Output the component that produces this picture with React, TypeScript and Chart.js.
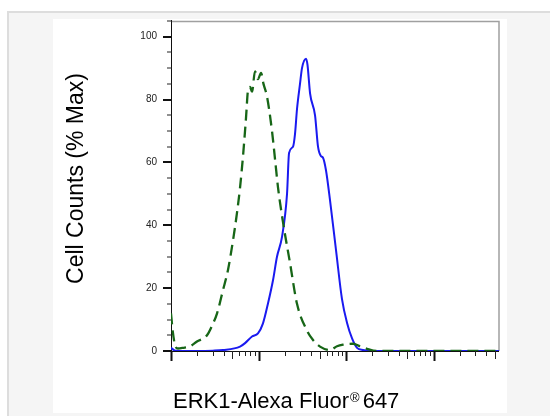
import { useEffect, useRef } from 'react';
import { Chart, registerables } from 'chart.js';

Chart.register(...registerables);

const W = 550;
const H = 416;

// Axis ranges (fluorescence intensity, log scale; cell counts % max)
const X_MIN = 10;
const X_MAX = 56000;
const Y_MIN = 0;
const Y_MAX = 105;

// Tick values
const Y_LABELS = [0, 20, 40, 60, 80, 100];
const Y_MINOR = [5, 10, 15, 25, 30, 35, 45, 50, 55, 65, 70, 75, 85, 90, 95, 105];
const X_DECADES = [10, 100, 1000, 10000];
const X_MULTS = [2, 3, 4, 5, 6, 7, 8, 9];

const X_TITLE_MAIN = 'ERK1-Alexa Fluor';
const X_TITLE_SUP = '®';
const X_TITLE_END = '647';
const Y_TITLE = 'Cell Counts (% Max)';

// Isotype control (green dashed)
const CONTROL_X = [10, 10.5, 11.1, 12.0, 13.7, 16.5, 19.8, 25.8, 29.4, 33.6, 39.3, 44.8, 51.2, 56.8, 61.5, 66.5, 71.9, 75.9, 80, 84.3, 91.2, 98.6, 106.9, 114, 125, 142.6, 154.5, 167.1, 190.5, 229.1, 275.4, 358.1, 419.8, 504.7, 656.1, 788.9, 924.7, 1202, 1445, 1738, 2259, 56000];
const CONTROL_Y = [12, 6, 2, 0.8, 1, 1.5, 3, 5, 8, 12, 19.4, 25.8, 35.3, 44, 52, 62, 74, 83, 84, 82.5, 89, 86.5, 88.5, 85, 81, 70, 61, 52, 41, 28, 15, 6.5, 3.5, 1.4, 0.3, 1.5, 2, 2.3, 1.5, 0.7, 0, 0];

// ERK1 stained (blue solid)
const ERK1_X = [10, 10.8, 11.7, 20, 30, 39.3, 61.5, 70.2, 84.3, 98.6, 112.5, 128.5, 146.6, 162.6, 185.8, 211.8, 223.4, 247.8, 261.2, 275.4, 297.9, 314.1, 349.1, 363.1, 388.2, 442.6, 478.6, 517.6, 545.8, 590.2, 656.1, 769.1, 899.5, 1026, 1172, 1337, 1563, 2037, 56000];
const ERK1_Y = [1.0, 0.3, 0, 0, 0.1, 0.3, 1.4, 2.5, 4.6, 5.6, 8.8, 15.2, 22.6, 30, 36.4, 50, 63, 65, 69, 77, 85, 90, 93, 91, 82, 75, 65, 62, 61.5, 57.5, 48, 32, 16.5, 9, 4, 1, 0.3, 0, 0];

const FONT = '"Liberation Sans", Arial, Helvetica, sans-serif';

const decorPlugin = {
  id: 'decor',
  beforeDraw(chart: any) {
    const ctx = chart.ctx;
    ctx.save();
    ctx.fillStyle = '#ffffff';
    ctx.fillRect(0, 0, W, H);
    ctx.fillStyle = '#f5f5f5';
    ctx.fillRect(7, 11, W - 7, H - 11);
    ctx.fillStyle = '#dddddd';
    ctx.fillRect(7, 11, W - 7, 2);
    ctx.fillRect(7, 11, 2, H - 11);
    ctx.fillStyle = '#ffffff';
    ctx.fillRect(53, 19, 454, 394);
    ctx.restore();
  },
  beforeDatasetsDraw(chart: any) {
    const ctx = chart.ctx;
    const xs = chart.scales.x;
    const ys = chart.scales.y;
    const { left, right, top, bottom } = chart.chartArea;
    ctx.save();
    // frame top & right
    ctx.strokeStyle = '#a0a0a0';
    ctx.lineWidth = 1.5;
    ctx.beginPath();
    ctx.moveTo(left, top + 0.5);
    ctx.lineTo(right, top + 0.5);
    ctx.lineTo(right, bottom);
    ctx.stroke();
    // axes
    ctx.strokeStyle = '#111';
    ctx.lineWidth = 1;
    ctx.beginPath();
    ctx.moveTo(left + 0.5, top - 1);
    ctx.lineTo(left + 0.5, bottom);
    ctx.moveTo(left, bottom + 0.5);
    ctx.lineTo(right, bottom + 0.5);
    ctx.stroke();
    // y ticks
    ctx.fillStyle = '#111';
    for (const v of Y_LABELS) {
      const py = Math.round(ys.getPixelForValue(v));
      ctx.fillRect(left - 8, py - 1, 9, 2);
    }
    ctx.fillStyle = '#222';
    for (const v of Y_MINOR) {
      const py = Math.round(ys.getPixelForValue(v));
      ctx.fillRect(left - 4, py - 0.5, 5, 1);
    }
    // x ticks
    for (const d of X_DECADES) {
      const px = Math.round(xs.getPixelForValue(d));
      ctx.fillStyle = '#111';
      ctx.fillRect(px - 0.5, bottom, 2, 10);
      for (const m of X_MULTS) {
        const v = d * m;
        if (v > X_MAX) continue;
        const pm = Math.round(xs.getPixelForValue(v));
        const len = m === 5 ? 8 : 5;
        ctx.fillStyle = '#222';
        ctx.fillRect(pm, bottom, 1, len);
      }
    }
    ctx.restore();
  },
  afterDraw(chart: any) {
    const ctx = chart.ctx;
    ctx.save();
    ctx.fillStyle = '#000';
    // y title
    ctx.save();
    ctx.translate(83, 178.5);
    ctx.rotate(-Math.PI / 2);
    ctx.font = `23px ${FONT}`;
    ctx.textAlign = 'center';
    ctx.textBaseline = 'alphabetic';
    ctx.fillText(Y_TITLE, 0, 0);
    ctx.restore();
    // x title
    ctx.textAlign = 'left';
    ctx.textBaseline = 'alphabetic';
    let x = 173;
    const y = 408;
    ctx.font = `22px ${FONT}`;
    ctx.fillText(X_TITLE_MAIN, x, y);
    x += ctx.measureText(X_TITLE_MAIN).width + 1;
    ctx.font = `13px ${FONT}`;
    ctx.fillText(X_TITLE_SUP, x, y - 6);
    x += ctx.measureText(X_TITLE_SUP).width + 3;
    ctx.font = `22px ${FONT}`;
    ctx.fillText(X_TITLE_END, x, y);
    ctx.restore();
  },
};

export default function App() {
  const ref = useRef<HTMLCanvasElement>(null);
  useEffect(() => {
    document.body.style.margin = '0';
    const canvas = ref.current!;
    const chart = new Chart(canvas, {
      type: 'line',
      data: {
        datasets: [
          {
            label: 'Isotype control',
            data: CONTROL_X.map((x, i) => ({ x, y: CONTROL_Y[i] })),
            borderColor: '#176617',
            borderWidth: 2.3,
            borderDash: [11, 6],
            pointRadius: 0,
            cubicInterpolationMode: 'monotone',
            fill: false,
          },
          {
            label: 'ERK1',
            data: ERK1_X.map((x, i) => ({ x, y: ERK1_Y[i] })),
            borderColor: '#1a1af0',
            borderWidth: 2,
            pointRadius: 0,
            cubicInterpolationMode: 'monotone',
            fill: false,
          },
        ],
      },
      options: {
        responsive: false,
        animation: false,
        devicePixelRatio: 1,
        layout: { padding: { left: 0, top: 21, right: 51, bottom: 65 } },
        plugins: { legend: { display: false }, tooltip: { enabled: false } },
        scales: {
          x: {
            type: 'logarithmic',
            min: X_MIN,
            max: X_MAX,
            display: false,
          },
          y: {
            type: 'linear',
            min: Y_MIN,
            max: Y_MAX,
            afterBuildTicks: (s: any) => {
              s.ticks = Y_LABELS.map((v) => ({ value: v }));
            },
            afterFit: (s: any) => {
              s.width = 171;
            },
            grid: { display: false, drawTicks: false },
            border: { display: false },
            ticks: {
              padding: 14,
              color: '#222',
              font: { family: FONT, size: 10 },
            },
          },
        },
      },
      plugins: [decorPlugin],
    });
    return () => chart.destroy();
  }, []);
  return <canvas ref={ref} width={W} height={H} style={{ display: 'block', width: W, height: H }} />;
}
